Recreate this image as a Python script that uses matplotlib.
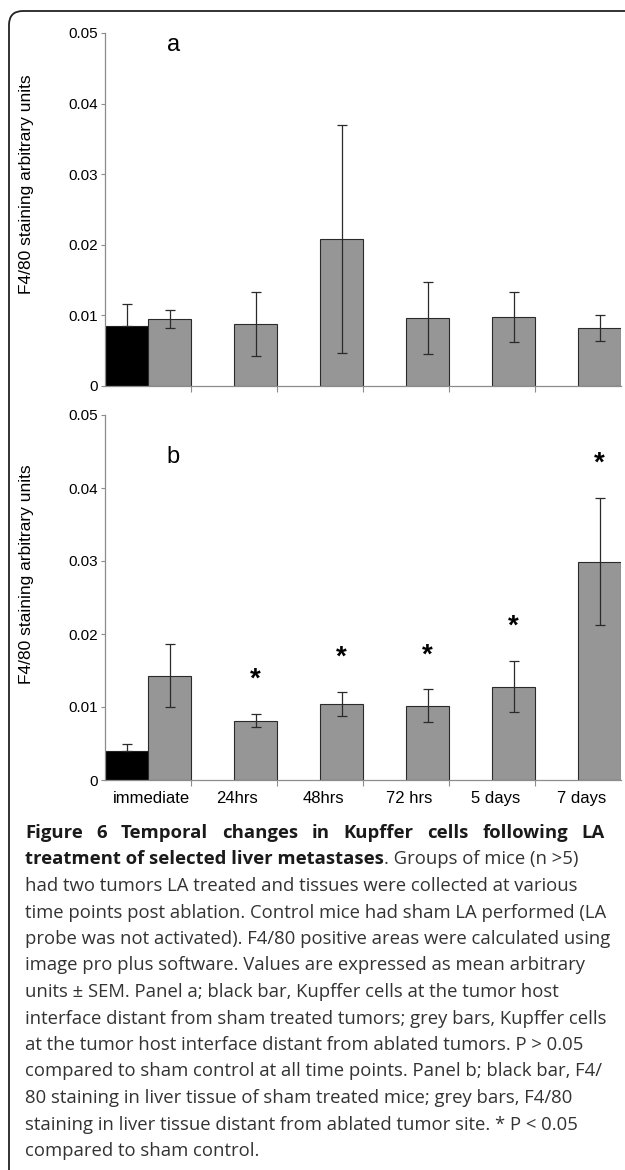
import matplotlib
matplotlib.use('Agg')
import matplotlib.pyplot as plt
import numpy as np
from matplotlib.patches import FancyBboxPatch
from matplotlib.transforms import IdentityTransform

categories = ['immediate', '24hrs', '48hrs', '72 hrs', '5 days', '7 days']

# panel a - tumor host interface
a_sham = [0.0085]
a_sham_err = [0.0031]
a_la = [0.0095, 0.0088, 0.0208, 0.0097, 0.0098, 0.0082]
a_la_err = [0.0013, 0.0045, 0.0161, 0.0051, 0.0035, 0.0018]

# panel b - liver tissue
b_sham = [0.0040]
b_sham_err = [0.0009]
b_la = [0.0143, 0.0081, 0.0104, 0.0102, 0.0128, 0.0299]
b_la_err = [0.0043, 0.0009, 0.0017, 0.0022, 0.0035, 0.0087]
b_signif = [False, True, True, True, True, True]

yticks = [0, 0.01, 0.02, 0.03, 0.04, 0.05]
ytick_labels = ['0', '0.01', '0.02', '0.03', '0.04', '0.05']
ylabel = 'F4/80 staining arbitrary units'

caption = [
    [("Figure 6 Temporal changes in Kupffer cells following LA", 'bold')],
    [("treatment of selected liver metastases", 'bold'), (". Groups of mice (n >5)", 'normal')],
    [("had two tumors LA treated and tissues were collected at various", 'normal')],
    [("time points post ablation. Control mice had sham LA performed (LA", 'normal')],
    [("probe was not activated). F4/80 positive areas were calculated using", 'normal')],
    [("image pro plus software. Values are expressed as mean arbitrary", 'normal')],
    [("units \u00b1 SEM. Panel a; black bar, Kupffer cells at the tumor host", 'normal')],
    [("interface distant from sham treated tumors; grey bars, Kupffer cells", 'normal')],
    [("at the tumor host interface distant from ablated tumors. P > 0.05", 'normal')],
    [("compared to sham control at all time points. Panel b; black bar, F4/", 'normal')],
    [("80 staining in liver tissue of sham treated mice; grey bars, F4/80", 'normal')],
    [("staining in liver tissue distant from ablated tumor site. * P < 0.05", 'normal')],
    [("compared to sham control.", 'normal')],
]

W, H = 625, 1170
fig = plt.figure(figsize=(W / 100, H / 100), dpi=100)

axis_grey = '#8c8c8c'
ek = dict(ecolor='#2a2a2a', elinewidth=0.9, capsize=3.3, capthick=0.9)


def panel(ax, sham, sham_err, la, la_err, letter, letter_y, labels):
    x = np.arange(len(categories))
    # only the upper whisker shows on the black bar
    ax.bar(x[:len(sham)] - 0.25, sham, 0.5, color='black', edgecolor='#222222',
           linewidth=0.8, yerr=[np.zeros(len(sham)), sham_err], error_kw=ek, zorder=2)
    ax.bar(x + 0.25, la, 0.5, color='#969696', edgecolor='#2a2a2a',
           linewidth=0.8, yerr=la_err, error_kw=ek, zorder=2)
    ax.set_xlim(-0.5, 5.5)
    ax.set_ylim(0, 0.05)
    for s in ['top', 'right']:
        ax.spines[s].set_visible(False)
    for s in ['left', 'bottom']:
        ax.spines[s].set_color(axis_grey)
        ax.spines[s].set_linewidth(0.9)
    ax.set_yticks(yticks)
    ax.set_yticklabels(ytick_labels, fontsize=11, family='Liberation Sans')
    ax.set_xticks(x[:-1] + 0.5)
    ax.set_xticklabels([])
    ax.set_xticks(x + 0.04, minor=True)
    if labels:
        ax.set_xticklabels(categories, minor=True, fontsize=12, family='Liberation Sans')
    ax.tick_params(axis='y', direction='out', length=3, width=0.8, color=axis_grey, pad=2)
    ax.tick_params(axis='x', which='major', direction='out', length=4, width=0.8, color=axis_grey)
    ax.tick_params(axis='x', which='minor', length=0, pad=8)
    ax.set_ylabel(ylabel, fontsize=12.5, family='Liberation Sans')
    ax.text(0.132, letter_y, letter, transform=ax.transAxes, fontsize=17,
            family='Liberation Sans', ha='center', va='center')
    return x


ax1 = fig.add_axes([105 / W, 1 - 386 / H, 516 / W, 353 / H])
panel(ax1, a_sham, a_sham_err, a_la, a_la_err, 'a', 0.966, False)
ax1.yaxis.set_label_coords(-0.138, 0.572)

ax2 = fig.add_axes([105 / W, 1 - 780 / H, 516 / W, 365 / H])
xb = panel(ax2, b_sham, b_sham_err, b_la, b_la_err, 'b', 0.885, True)
ax2.yaxis.set_label_coords(-0.138, 0.564)
for i, sig in enumerate(b_signif):
    if sig:
        ax2.text(xb[i] + 0.25, b_la[i] + b_la_err[i] + 0.0047, '*', fontsize=20,
                 fontweight='bold', family='Liberation Sans', ha='center', va='center')

# rounded frame around figure
frame = FancyBboxPatch((9, -60), 700, H - 11 + 60, boxstyle='round,pad=0,rounding_size=14',
                       transform=IdentityTransform(), facecolor='none',
                       edgecolor='#222222', linewidth=1.3)
fig.add_artist(frame)

# caption
renderer = fig.canvas.get_renderer()
x0, x1 = 25, 605
base0, step = 838, 26.5
cap_font = 'Open Sans'
cap_size = 13.3
for i, segs in enumerate(caption):
    yb = 1 - (base0 + i * step) / H
    if i == 0:
        words = segs[0][0].split(' ')
        ts = [fig.text(0, yb, w, fontsize=cap_size, fontweight='bold', family=cap_font,
                       va='baseline', color='#1a1a1a') for w in words]
        widths = [t.get_window_extent(renderer).width for t in ts]
        gap = (x1 - x0 - sum(widths)) / (len(words) - 1)
        xp = x0
        for t, w in zip(ts, widths):
            t.set_x(xp / W)
            xp += w + gap
        continue
    xp = x0
    for text, weight in segs:
        t = fig.text(xp / W, yb, text, fontsize=cap_size, fontweight=weight, family=cap_font,
                     va='baseline', color='#1a1a1a' if weight == 'bold' else '#333333')
        xp += t.get_window_extent(renderer).width

fig.savefig('out.png', dpi=100)
